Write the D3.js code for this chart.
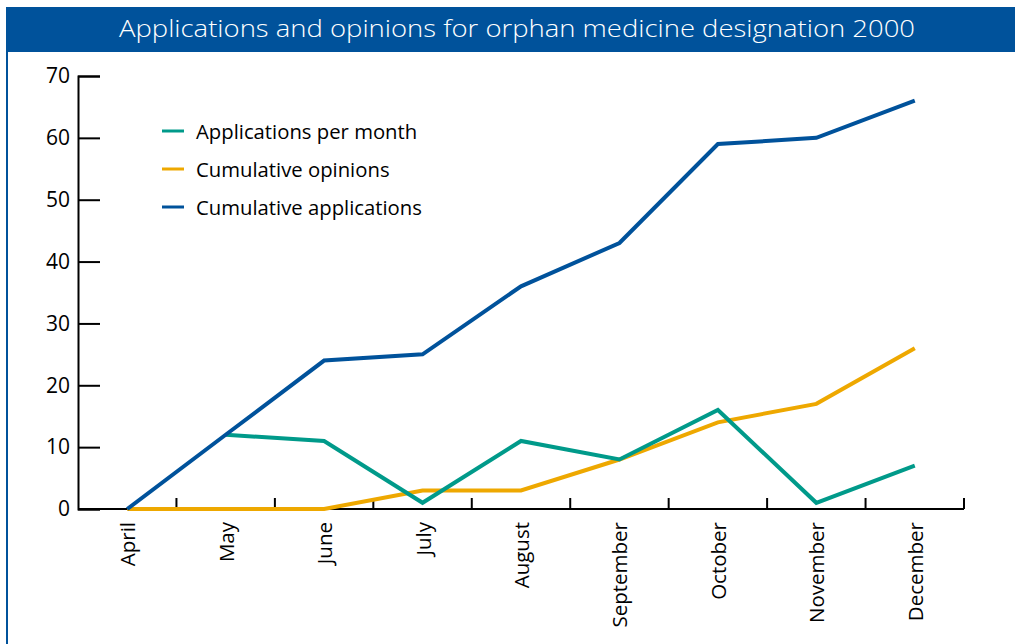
<!DOCTYPE html>
<html>
<head>
<meta charset="utf-8">
<script src="https://cdn.jsdelivr.net/npm/d3@7"></script>
<style>
  body { margin: 0; background: #fff; }
  text { font-family: "Open Sans", "DejaVu Sans", sans-serif; }
</style>
</head>
<body>
<div id="plot_area"></div>
<script>
// Canvas size
const w = 1015;
const h = 644;

// Chart data
const months = ['April', 'May', 'June', 'July', 'August', 'September', 'October', 'November', 'December'];
const perMonth = [null, 12, 11, 1, 11, 8, 16, 1, 7];
const cumOpinions = [0, 0, 0, 3, 3, 8, 14, 17, 26];
const cumApplications = [0, 12, 24, 25, 36, 43, 59, 60, 66];
const yTicks = [0, 10, 20, 30, 40, 50, 60, 70];
const seriesNames = ['Applications per month', 'Cumulative opinions', 'Cumulative applications'];
const seriesColors = ['#009a8a', '#eea800', '#00529b'];

const svg = d3.select('#plot_area')
    .append('svg')
    .attr('width', w)
    .attr('height', h);

// Frame and title bar
svg.append('rect')
   .attr('x', 6).attr('y', 7)
   .attr('width', w - 6).attr('height', 45)
   .attr('fill', '#00529b');

svg.append('line')
   .attr('x1', 7).attr('x2', 7)
   .attr('y1', 7).attr('y2', h)
   .attr('stroke', '#00529b')
   .attr('stroke-width', 2);

svg.append('text')
   .attr('x', 517)
   .attr('y', 37)
   .attr('text-anchor', 'middle')
   .attr('fill', '#fff')
   .style('font-size', '24px')
   .style('font-weight', 300)
   .attr('textLength', 796)
   .attr('lengthAdjust', 'spacingAndGlyphs')
   .text('Applications and opinions for orphan medicine designation 2000');

// Scales
const xScale = d3.scaleBand()
    .domain(months)
    .range([78, 964]);

const yScale = d3.scaleLinear()
    .domain([0, 70])
    .range([509, 76]);

const xc = (m) => xScale(m) + xScale.bandwidth() / 2;

// Y axis with inward ticks
const yAxis = svg.append('g')
    .attr('transform', 'translate(78,0)')
    .call(d3.axisLeft(yScale).tickValues(yTicks).tickSize(-22));
yAxis.select('.domain').attr('stroke', '#000').attr('stroke-width', 2);
yAxis.selectAll('.tick line').attr('stroke', '#000').attr('stroke-width', 2);
yAxis.selectAll('.tick text')
     .attr('x', -8)
     .attr('text-anchor', 'end')
     .attr('fill', '#000')
     .style('font-size', '21px')
     .style('font-family', '"Open Sans", sans-serif');

// X axis: line plus ticks at band boundaries
const xg = svg.append('g');
xg.append('line')
  .attr('x1', 78).attr('x2', 964)
  .attr('y1', yScale(0)).attr('y2', yScale(0))
  .attr('stroke', '#000').attr('stroke-width', 2);

const boundaries = months.slice(1).map((m) => xScale(m)).concat([xScale.range()[1]]);
xg.selectAll('.xtick')
  .data(boundaries)
  .enter()
  .append('line')
  .attr('x1', (d) => d).attr('x2', (d) => d)
  .attr('y1', yScale(0)).attr('y2', yScale(0) - 11)
  .attr('stroke', '#000').attr('stroke-width', 2);

xg.selectAll('.xlabel')
  .data(months)
  .enter()
  .append('text')
  .attr('text-anchor', 'end')
  .attr('dominant-baseline', 'central')
  .attr('transform', (d) => 'translate(' + xc(d) + ',' + (yScale(0) + 13) + ')rotate(-90)')
  .style('font-size', '20.5px')
  .attr('fill', '#000')
  .text((d) => d);

// Lines
const series = [perMonth, cumOpinions, cumApplications];
const line = d3.line()
    .defined((d) => d[1] !== null)
    .x((d) => xc(d[0]))
    .y((d) => yScale(d[1]));

[1, 0, 2].forEach(function (i) {
    svg.append('path')
       .datum(months.map((m, j) => [m, series[i][j]]))
       .attr('fill', 'none')
       .attr('stroke', seriesColors[i])
       .attr('stroke-width', 4)
       .attr('stroke-linejoin', 'miter')
       .attr('d', line);
});

// Legend
const legend = svg.append('g');
seriesNames.forEach(function (name, i) {
    const y = 131 + i * 38;
    legend.append('line')
          .attr('x1', 162).attr('x2', 184)
          .attr('y1', y).attr('y2', y)
          .attr('stroke', seriesColors[i])
          .attr('stroke-width', 3);
    legend.append('text')
          .attr('x', 196)
          .attr('y', y)
          .attr('dominant-baseline', 'central')
          .style('font-size', '20.3px')
          .attr('fill', '#000')
          .text(name);
});
</script>
</body>
</html>
